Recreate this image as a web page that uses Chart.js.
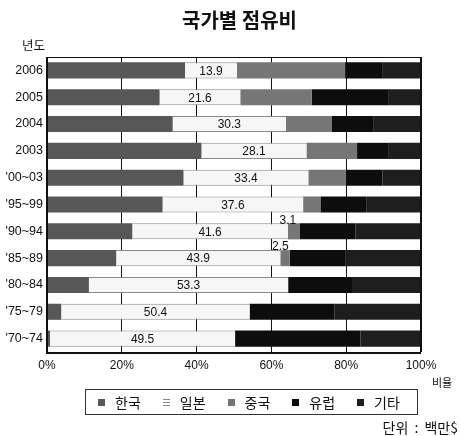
<!DOCTYPE html>
<html>
<head>
<meta charset="utf-8">
<script src="https://cdn.jsdelivr.net/npm/chart.js@4/dist/chart.umd.min.js"></script>
<style>
  body { margin: 0; background: #fff; }
  #wrap { position: relative; width: 460px; height: 436px; overflow: hidden; font-family: "Noto Sans CJK KR", sans-serif; color: #111; }
  #chart { position: absolute; left: 0; top: 0; }
  .txt { position: absolute; white-space: nowrap; line-height: 1; }
  #title { left: 0; width: 479px; top: 10px; text-align: center; font-size: 20px; font-weight: bold; }
  #ylab { left: 22px; top: 39px; font-size: 12.5px; }
  #xlab { left: 432px; top: 377px; font-size: 11px; }
  #unit { right: 2px; top: 420px; font-size: 14px; word-spacing: 3px; }
  #legend { position: absolute; left: 85px; top: 389px; width: 333px; height: 26px; border: 1px solid #333; display: flex; align-items: center; padding-left: 12px; box-sizing: border-box; white-space: nowrap; }
  .item { display: flex; align-items: center; flex: 0 0 auto; margin-right: 22px; font-size: 14px; line-height: 1; white-space: nowrap; }
  .mark { display: inline-block; flex: 0 0 auto; width: 7px; height: 7px; margin-right: 10px; }
</style>
</head>
<body>
<div id="wrap">
  <canvas id="chart" width="460" height="436"></canvas>
  <div class="txt" id="title">국가별 점유비</div>
  <div class="txt" id="ylab">년도</div>
  <div class="txt" id="xlab">비율</div>
  <div id="legend"></div>
  <div class="txt" id="unit">단위 : 백만$</div>
</div>
<script>
// Periods, newest first (top of the chart)
const periods = ['2006', '2005', '2004', '2003', "'00~03", "'95~99", "'90~94", "'85~89", "'80~84", "'75~79", "'70~74"];

// Share of each region per period (%)
const korea  = [36.9, 30.1, 33.6, 41.3, 36.5, 30.9, 22.8, 18.5, 11.2,  3.8,  0.8];
const japan  = [13.9, 21.6, 30.3, 28.1, 33.4, 37.6, 41.6, 43.9, 53.3, 50.4, 49.5];
const china  = [28.9, 19.1, 12.3, 13.5,  9.9,  4.6,  3.1,  2.5,  0.0,  0.0,  0.0];
const europe = [ 9.9, 20.4, 11.0,  8.5,  9.9, 12.4, 15.0, 15.0, 17.3, 22.6, 33.5];
const others = [10.4,  8.8, 12.8,  8.6, 10.3, 14.5, 17.5, 20.1, 18.2, 23.2, 16.2];

const seriesNames = ['한국', '일본', '중국', '유럽', '기타'];
const xTicks = [0, 20, 40, 60, 80, 100];

const fills = ['#575757', '#f6f6f6', '#767676', '#0d0d0d', '#1e1e1e'];
const edges = ['#444', '#8a8a8a', '#555', '#000', '#000'];
const seriesValues = [korea, japan, china, europe, others];

// Legend built from the series names
const legend = document.getElementById('legend');
seriesNames.forEach((name, i) => {
  const item = document.createElement('div');
  item.className = 'item';
  const m = document.createElement('span');
  m.className = 'mark';
  if (i === 1) {
    m.style.background = 'repeating-linear-gradient(#888 0 1px, #fff 1px 3px)';
  } else {
    m.style.background = fills[i];
  }
  const t = document.createElement('span');
  t.textContent = name;
  item.appendChild(m);
  item.appendChild(t);
  legend.appendChild(item);
});

// Frame around the plot area
const framePlugin = {
  id: 'frame',
  afterDraw(chart) {
    const { ctx, chartArea: a } = chart;
    ctx.save();
    ctx.strokeStyle = '#111';
    ctx.lineWidth = 1;
    ctx.strokeRect(a.left + 0.5, a.top + 0.5, a.right - a.left - 1, a.bottom - a.top);
    ctx.lineWidth = 2;
    ctx.beginPath();
    ctx.moveTo(a.left, a.top);
    ctx.lineTo(a.left, a.bottom + 1);
    ctx.lineTo(a.right, a.bottom + 1);
    ctx.stroke();
    ctx.restore();
  }
};

// Value labels: Japan in the middle of its segment, small China shares above the bar
const labelPlugin = {
  id: 'valueLabels',
  afterDatasetsDraw(chart) {
    const { ctx } = chart;
    ctx.save();
    ctx.font = '12px "Liberation Sans", Arial, sans-serif';
    ctx.fillStyle = '#111';
    ctx.textAlign = 'center';
    ctx.textBaseline = 'middle';
    chart.getDatasetMeta(1).data.forEach((bar, i) => {
      const cx = (bar.x + bar.base) / 2;
      ctx.fillText(japan[i].toFixed(1), cx, bar.y + 1);
    });
    chart.getDatasetMeta(2).data.forEach((bar, i) => {
      const v = china[i];
      if (v > 0 && v < 4) {
        ctx.fillText(v.toFixed(1), bar.base, bar.y - bar.height / 2 - 3);
      }
    });
    ctx.restore();
  }
};

new Chart(document.getElementById('chart'), {
  type: 'bar',
  data: {
    labels: periods,
    datasets: seriesNames.map((name, i) => ({
      label: name,
      data: seriesValues[i],
      backgroundColor: fills[i],
      borderColor: edges[i],
      borderWidth: i === 1 ? { top: 1, bottom: 1 } : 0,
      borderSkipped: false,
      barPercentage: 0.6,
      categoryPercentage: 1.0
    }))
  },
  options: {
    indexAxis: 'y',
    responsive: false,
    animation: false,
    layout: { padding: { left: 0, right: 39, top: 57, bottom: 64 } },
    plugins: { legend: { display: false }, title: { display: false }, tooltip: { enabled: false } },
    scales: {
      x: {
        stacked: true,
        min: 0,
        max: 100,
        afterBuildTicks(scale) { scale.ticks = xTicks.map(v => ({ value: v })); },
        afterFit(scale) { scale.height = 20; },
        grid: { color: '#111', lineWidth: 1, drawTicks: false },
        border: { display: false },
        ticks: {
          padding: 6,
          color: '#111',
          font: { family: '"Liberation Sans", Arial, sans-serif', size: 12 },
          callback: v => v + '%'
        }
      },
      y: {
        stacked: true,
        afterFit(scale) { scale.width = 47; },
        grid: { display: false, drawTicks: false },
        border: { display: false },
        ticks: {
          padding: 4,
          color: '#111',
          font: { family: '"Liberation Sans", Arial, sans-serif', size: 12.5 }
        }
      }
    }
  },
  plugins: [framePlugin, labelPlugin]
});
</script>
</body>
</html>
